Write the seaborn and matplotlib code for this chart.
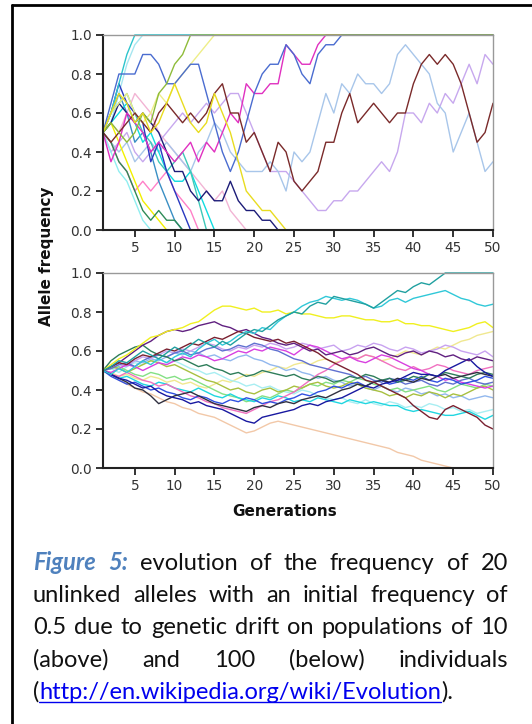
import matplotlib
matplotlib.use("Agg")
import matplotlib.pyplot as plt
from matplotlib.lines import Line2D
import seaborn as sns
import pandas as pd

generations = list(range(1, 51))

# population of 10 individuals: copies of the allele out of 20
top_cyan = [10, 12, 15, 18] + [20] * 46
top_pale_cyan = [10, 11, 14, 17, 19] + [20] * 45
top_pale_yellow = [10, 12, 13, 14, 12, 11, 12, 14, 13, 15, 16, 17, 18, 19] + [20] * 36
top_blue = [10, 13, 16, 16, 16, 18, 18, 17, 15, 15, 16, 17, 17, 14, 11, 8, 6, 8, 11, 14,
            16, 17, 17, 19, 18, 16, 15, 18, 19, 19] + [20] * 20
top_magenta = [10, 7, 9, 12, 11, 10, 8, 9, 8, 7, 8, 9, 7, 9, 8, 10, 12, 11, 15, 14,
               14, 15, 15, 19, 18, 17, 17, 19] + [20] * 22
top_olive = [10, 11, 10, 9, 10, 12, 11, 14, 15, 17, 18] + [20] * 39
top_brown = [10, 9, 10, 11, 12, 11, 10, 12, 13, 12, 11, 12, 11, 12, 14, 15, 12, 12, 9, 10,
             8, 6, 9, 8, 5, 4, 5, 6, 9, 9, 12, 14, 11, 12, 13, 12, 11, 12, 12, 15,
             17, 18, 17, 18, 17, 15, 12, 9, 10, 13]
top_light_blue = [10, 9, 8, 9, 7, 8, 9, 8, 9, 8, 7, 6, 8, 9, 11, 10, 8, 7, 6, 6,
                  6, 7, 6, 4, 8, 7, 8, 11, 14, 12, 15, 14, 16, 15, 15, 14, 15, 18, 19, 18,
                  17, 16, 13, 12, 8, 10, 12, 9, 6, 7]
top_lavender = [10, 8, 9, 10, 8, 7, 8, 9, 10, 11, 12, 11, 12, 13, 12, 13, 14, 14, 12, 10,
                8, 6, 6, 6, 5, 4, 3, 2, 2, 3, 3, 4, 4, 5, 6, 7, 6, 8, 12, 12,
                11, 13, 12, 14, 13, 15, 17, 15, 18, 17]
top_dark_green = [10, 9, 7, 6, 4, 2, 1, 2, 1, 1] + [0] * 40
top_light_cyan = [10, 8, 6, 5, 3, 1] + [0] * 44
top_yellow = [10, 11, 9, 7, 5, 3, 2, 1] + [0] * 42
top_teal = [10, 12, 14, 12, 9, 10, 8, 5, 3, 1] + [0] * 40
top_pink = [10, 9, 7, 6, 4, 5, 4, 5, 6, 4, 3, 2] + [0] * 38
top_aqua = [10, 11, 12, 13, 11, 9, 10, 8, 6, 5, 5, 6, 4, 2] + [0] * 36
top_turquoise = [10, 12, 13, 14, 12, 10, 9, 7, 6, 7, 8, 6, 3] + [0] * 37
top_light_pink = [10, 11, 10, 12, 14, 13, 12, 10, 9, 8, 7, 6, 5, 4, 3, 4, 2, 1] + [0] * 32
top_navy = [10, 11, 13, 12, 11, 12, 11, 10, 8, 6, 6, 4, 3, 4, 3, 3, 5, 3, 2, 2,
            1, 1] + [0] * 28
top_dark_blue = [10, 12, 15, 13, 12, 11, 7, 9, 6, 4, 2] + [0] * 39
top_gold = [10, 12, 14, 13, 11, 12, 10, 11, 13, 15, 13, 11, 10, 11, 14, 12, 10, 7, 4, 3,
            2, 2, 1] + [0] * 27

# population of 100 individuals: allele frequency in percent
bot_teal = [50, 52, 55, 54, 57, 60, 58, 56, 59, 62, 60, 63, 66, 64, 62, 65, 63, 66, 69, 71,
            70, 73, 76, 78, 80, 79, 83, 85, 84, 88, 87, 86, 85, 84, 82, 85, 88, 91, 90, 93,
            95, 94, 97, 100, 100, 100, 100, 100, 100, 100]
bot_cyan = [50, 48, 51, 49, 52, 55, 53, 56, 54, 57, 59, 57, 61, 64, 66, 63, 65, 68, 70, 69,
            72, 71, 75, 78, 80, 83, 85, 86, 88, 87, 86, 87, 86, 84, 82, 83, 86, 87, 85, 87,
            88, 89, 90, 91, 89, 87, 86, 84, 83, 84]
bot_yellow = [50, 53, 56, 58, 61, 64, 67, 68, 70, 71, 72, 74, 75, 78, 81, 83, 83, 82, 81, 82,
              80, 80, 81, 79, 80, 79, 79, 78, 77, 77, 78, 78, 77, 76, 76, 75, 75, 76, 74, 74,
              73, 73, 72, 71, 70, 71, 72, 74, 75, 72]
bot_light_yellow = [50, 49, 47, 48, 46, 45, 47, 46, 44, 45, 43, 44, 42, 41, 43, 45, 44, 46, 48, 47,
                    49, 50, 52, 51, 53, 54, 53, 55, 56, 54, 55, 57, 56, 58, 57, 55, 56, 58, 60, 59,
                    58, 60, 62, 61, 63, 65, 66, 68, 69, 70]
bot_lavender = [50, 51, 53, 52, 55, 57, 56, 58, 60, 59, 61, 60, 62, 64, 63, 61, 60, 62, 61, 63,
                62, 64, 63, 61, 62, 64, 63, 61, 62, 63, 60, 61, 63, 62, 64, 63, 61, 60, 62, 61,
                59, 60, 61, 63, 62, 60, 59, 58, 60, 57]
bot_purple = [50, 52, 54, 57, 60, 63, 65, 68, 70, 71, 70, 71, 73, 74, 75, 73, 72, 70, 71, 69,
              67, 66, 64, 63, 64, 62, 60, 61, 58, 59, 60, 58, 59, 61, 62, 60, 58, 57, 59, 60,
              58, 60, 59, 57, 58, 56, 55, 57, 56, 55]
bot_navy = [50, 48, 46, 45, 43, 41, 42, 39, 37, 36, 35, 33, 34, 32, 31, 30, 28, 26, 24, 23,
            26, 27, 28, 29, 30, 32, 33, 32, 34, 35, 36, 38, 40, 42, 41, 43, 44, 45, 47, 49,
            48, 48, 47, 50, 52, 54, 56, 52, 49, 47]
bot_dark_green = [50, 55, 58, 60, 62, 63, 60, 58, 57, 55, 56, 54, 52, 53, 51, 50, 48, 49, 47, 48,
                  50, 49, 48, 47, 48, 46, 45, 47, 46, 44, 45, 47, 46, 48, 47, 45, 46, 44, 45, 47,
                  46, 48, 47, 49, 48, 47, 46, 48, 49, 48]
bot_blue = [50, 47, 45, 43, 44, 42, 40, 41, 39, 38, 36, 35, 37, 36, 34, 33, 35, 34, 36, 35,
            33, 34, 33, 35, 36, 38, 37, 39, 40, 42, 41, 43, 44, 42, 44, 45, 43, 44, 46, 45,
            47, 45, 44, 46, 45, 43, 44, 45, 47, 46]
bot_magenta = [50, 49, 51, 53, 52, 50, 52, 54, 53, 55, 57, 56, 58, 57, 55, 56, 58, 60, 59, 61,
               60, 62, 61, 60, 58, 61, 63, 62, 60, 58, 56, 57, 55, 54, 56, 58, 57, 55, 53, 51,
               50, 48, 47, 45, 46, 44, 43, 42, 41, 42]
bot_olive = [50, 52, 51, 49, 51, 53, 55, 54, 52, 53, 51, 49, 47, 45, 44, 42, 40, 41, 39, 38,
             40, 41, 39, 40, 42, 41, 43, 44, 42, 41, 42, 44, 43, 41, 40, 39, 37, 38, 36, 38,
             37, 39, 38, 36, 38, 37, 39, 41, 42, 40]
bot_slate = [50, 51, 53, 54, 52, 55, 57, 58, 57, 59, 60, 58, 59, 61, 62, 60, 61, 63, 62, 64,
             63, 61, 60, 58, 56, 55, 53, 52, 51, 50, 49, 48, 46, 47, 45, 44, 46, 45, 43, 44,
             45, 43, 42, 44, 43, 45, 46, 44, 43, 44]
bot_light_blue = [50, 52, 51, 53, 55, 54, 56, 55, 57, 59, 58, 60, 59, 57, 58, 56, 55, 57, 58, 56,
                  55, 53, 52, 50, 51, 49, 48, 46, 47, 45, 44, 42, 43, 41, 40, 42, 40, 39, 41, 40,
                  38, 39, 37, 38, 36, 37, 35, 36, 37, 36]
bot_aqua = [50, 48, 46, 47, 45, 43, 42, 44, 43, 41, 40, 39, 41, 39, 37, 36, 38, 36, 35, 34,
            36, 35, 37, 36, 34, 35, 34, 36, 35, 34, 33, 35, 34, 33, 34, 33, 32, 32, 30, 29,
            30, 29, 28, 27, 27, 28, 29, 27, 25, 27]
bot_light_cyan = [50, 51, 49, 52, 54, 53, 55, 56, 54, 55, 53, 51, 50, 48, 49, 47, 45, 44, 42, 43,
                  41, 42, 40, 39, 38, 40, 39, 37, 36, 35, 36, 34, 33, 35, 33, 32, 34, 33, 31, 32,
                  31, 33, 32, 30, 31, 29, 30, 28, 29, 30]
bot_dark_red = [50, 52, 54, 53, 56, 58, 57, 59, 61, 60, 62, 64, 63, 65, 67, 66, 68, 70, 69, 67,
                66, 65, 66, 64, 65, 63, 61, 59, 56, 54, 52, 50, 48, 45, 44, 42, 40, 38, 36, 32,
                29, 26, 25, 30, 32, 30, 28, 26, 22, 20]
bot_peach = [50, 48, 45, 43, 41, 39, 38, 36, 34, 33, 31, 30, 28, 27, 26, 24, 22, 20, 18, 19,
             21, 23, 24, 23, 22, 21, 20, 19, 18, 17, 16, 15, 14, 13, 12, 11, 10, 8, 7, 6,
             4, 3, 2, 1, 0, 0, 0, 0, 0, 0]
bot_charcoal = [50, 48, 46, 44, 41, 40, 37, 33, 35, 37, 38, 39, 37, 35, 33, 32, 31, 30, 29, 31,
                32, 31, 33, 34, 33, 35, 36, 37, 36, 38, 40, 41, 43, 42, 44, 45, 44, 46, 45, 44,
                46, 45, 47, 48, 46, 47, 48, 49, 48, 47]
bot_pink = [50, 48, 47, 49, 47, 45, 44, 42, 43, 41, 39, 37, 36, 34, 33, 31, 30, 29, 28, 30,
            32, 34, 35, 37, 39, 42, 45, 48, 50, 53, 55, 57, 56, 58, 57, 55, 53, 51, 50, 52,
            50, 51, 53, 52, 50, 49, 48, 50, 51, 52]
bot_light_green = [50, 51, 52, 50, 48, 47, 49, 48, 46, 47, 45, 46, 44, 42, 40, 38, 37, 36, 34, 35,
                   37, 36, 38, 40, 39, 41, 43, 42, 44, 43, 45, 44, 46, 45, 43, 42, 40, 41, 39, 40,
                   41, 42, 40, 39, 41, 43, 42, 41, 43, 42]

top_series = [
    ("light pink", top_light_pink, "#f2b4d4"), ("pale cyan", top_pale_cyan, "#a6e6f0"),
    ("lavender", top_lavender, "#c7a8ee"), ("light blue", top_light_blue, "#a8c6ea"),
    ("pink", top_pink, "#ff80c8"), ("light cyan", top_light_cyan, "#90eef0"),
    ("teal", top_teal, "#3a8fc4"), ("aqua", top_aqua, "#10dce0"),
    ("turquoise", top_turquoise, "#3ec8b8"), ("yellow", top_yellow, "#f2f000"),
    ("dark green", top_dark_green, "#2e8b57"), ("dark blue", top_dark_blue, "#2838c0"),
    ("navy", top_navy, "#1c1c78"), ("cyan", top_cyan, "#2cc4cc"),
    ("pale yellow", top_pale_yellow, "#eeee88"), ("magenta", top_magenta, "#e030c0"),
    ("blue", top_blue, "#4a6cd0"), ("brown", top_brown, "#7a2a2a"),
    ("olive", top_olive, "#8fbc3a"), ("gold", top_gold, "#e8dc20"),
]
bottom_series = [
    ("peach", bot_peach, "#f2c8a8"), ("light yellow", bot_light_yellow, "#f0e890"),
    ("light cyan", bot_light_cyan, "#a8eef2"), ("light blue", bot_light_blue, "#92b8ee"),
    ("lavender", bot_lavender, "#c8a2f0"), ("light green", bot_light_green, "#84e084"),
    ("olive", bot_olive, "#a8c040"), ("aqua", bot_aqua, "#20d6e0"),
    ("pink", bot_pink, "#f070c0"), ("magenta", bot_magenta, "#d840e0"),
    ("slate", bot_slate, "#6070d0"), ("blue", bot_blue, "#3050e0"),
    ("dark green", bot_dark_green, "#2e7d5a"), ("charcoal", bot_charcoal, "#303040"),
    ("navy", bot_navy, "#1818a0"), ("purple", bot_purple, "#602080"),
    ("dark red", bot_dark_red, "#7a2030"), ("yellow", bot_yellow, "#f0f020"),
    ("cyan", bot_cyan, "#30c8d8"), ("teal", bot_teal, "#20a0a0"),
]

caption_lines = [
    [("Figure", "fig"), ("5:", "fig"), ("evolution", ""), ("of", ""), ("the", ""),
     ("frequency", ""), ("of", ""), ("20", "")],
    [("unlinked", ""), ("alleles", ""), ("with", ""), ("an", ""), ("initial", ""),
     ("frequency", ""), ("of", "")],
    [("0.5", ""), ("due", ""), ("to", ""), ("genetic", ""), ("drift", ""), ("on", ""),
     ("populations", ""), ("of", ""), ("10", "")],
    [("(above)", ""), ("and", ""), ("100", ""), ("(below)", ""), ("individuals", "")],
]
caption_last = [("(", ""), ("http://en.wikipedia.org/wiki/Evolution", "link"), (").", "")]

W, H = 532, 724


def make_frame(series, scale):
    rows = []
    for name, values, _ in series:
        for g, v in zip(generations, values):
            rows.append({"generation": g, "frequency": v / scale, "allele": name})
    return pd.DataFrame(rows)


def draw_panel(ax, series, scale):
    df = make_frame(series, scale)
    palette = {name: color for name, _, color in series}
    sns.lineplot(data=df, x="generation", y="frequency", hue="allele",
                 hue_order=[s[0] for s in series], palette=palette,
                 legend=False, linewidth=1.0, ax=ax)
    for line in ax.lines:
        line.set_clip_on(False)
    ax.set_xlim(1, 50)
    ax.set_ylim(0, 1)
    ax.set_xticks(range(5, 51, 5))
    ax.set_yticks([0, 0.2, 0.4, 0.6, 0.8, 1.0])
    ax.set_yticklabels(["0.0", "0.2", "0.4", "0.6", "0.8", "1.0"])
    ax.set_xlabel("")
    ax.set_ylabel("")
    ax.tick_params(direction="out", length=5, width=1.3, labelsize=9.8,
                   labelcolor="#333333", color="#222222", pad=3)
    for side in ["left", "bottom"]:
        ax.spines[side].set_color("#222222")
        ax.spines[side].set_linewidth(1.5)
    for side in ["top", "right"]:
        ax.spines[side].set_visible(True)
        ax.spines[side].set_color("#999999")
        ax.spines[side].set_linewidth(1.0)


def fx(px):
    return px / W


def fy(py):
    return 1 - py / H


def word_style(kind):
    if kind == "fig":
        return dict(color="#4f81bd", fontweight="bold", fontstyle="italic")
    if kind == "link":
        return dict(color="#0000ee")
    return dict(color="#111111")


def draw_caption(fig, size):
    renderer = fig.canvas.get_renderer()
    left, right = 33, 508
    baselines = [570, 602, 634, 667, 699]
    for words, base in zip(caption_lines, baselines):
        texts = [fig.text(0, fy(base), w, fontsize=size, family="Lato", va="baseline",
                          **word_style(k)) for w, k in words]
        widths = [t.get_window_extent(renderer).width for t in texts]
        gap = (right - left - sum(widths)) / (len(texts) - 1)
        x = left
        for t, wd in zip(texts, widths):
            t.set_x(fx(x))
            x += wd + gap
    x = left
    base = baselines[-1]
    for w, k in caption_last:
        t = fig.text(fx(x), fy(base), w, fontsize=size, family="Lato", va="baseline",
                     **word_style(k))
        wd = t.get_window_extent(renderer).width
        if k == "link":
            fig.add_artist(Line2D([fx(x), fx(x + wd)], [fy(base + 3), fy(base + 3)],
                                  transform=fig.transFigure, color="#0000ee", linewidth=1.0))
        x += wd


def main():
    sns.set_style("ticks")
    plt.rcParams["font.family"] = ["DejaVu Sans"]
    fig = plt.figure(figsize=(W / 100, H / 100), dpi=100)
    fig.patch.set_facecolor("white")

    ax_top = fig.add_axes([fx(103), fy(230), fx(390), 195 / H])
    ax_bot = fig.add_axes([fx(103), fy(468), fx(390), 195 / H])
    draw_panel(ax_top, top_series, 20)
    draw_panel(ax_bot, bottom_series, 100)

    fig.text(fx(47), fy(256), "Allele frequency", rotation=90, ha="center", va="center",
             fontsize=11, fontweight="bold", color="#111111")
    fig.text(fx(285), fy(512), "Generations", ha="center", va="center",
             fontsize=11, fontweight="bold", color="#111111")

    # outer frame of the figure box
    fig.add_artist(Line2D([fx(12), fx(12)], [fy(5), 0], transform=fig.transFigure,
                          color="black", linewidth=2))
    fig.add_artist(Line2D([fx(12), 1], [fy(5), fy(5)], transform=fig.transFigure,
                          color="black", linewidth=2))

    draw_caption(fig, 17)
    fig.savefig("out.png", dpi=100)


if __name__ == "__main__":
    main()
